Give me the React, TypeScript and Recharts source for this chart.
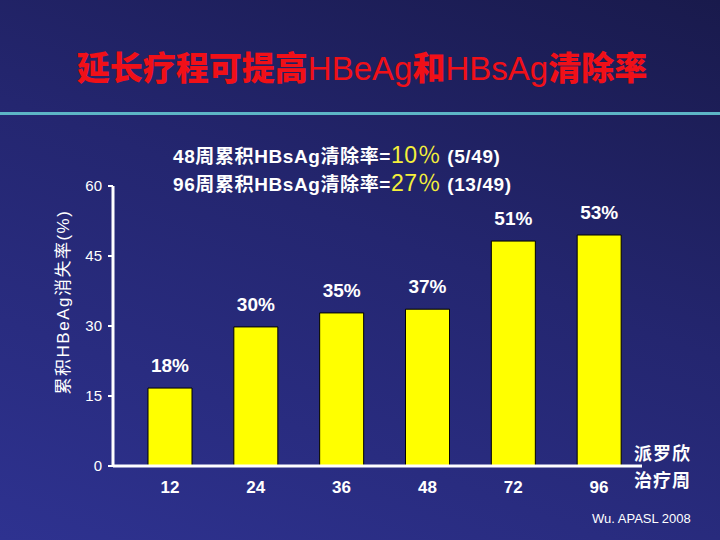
import React from "react";
import { BarChart, Bar, XAxis, YAxis, LabelList } from "recharts";

// treatment weeks
const weeks = ["12", "24", "36", "48", "72", "96"];
// bar heights as drawn on the slide (%)
const clearance = [16.7, 29.8, 32.8, 33.6, 48.2, 49.5];
// labels printed above the bars
const rateLabels = ["18%", "30%", "35%", "37%", "51%", "53%"];
const yTicks = [0, 15, 30, 45, 60];

const data = weeks.map((w, i) => ({ week: w, value: clearance[i], label: rateLabels[i] }));

const latin = "'Liberation Sans', Arial, 'Noto Sans CJK SC', sans-serif";
const cjk = "'Noto Sans CJK SC', 'Liberation Sans', sans-serif";

function YTick({ x, y, payload }: any) {
  return (
    <text x={x - 4} y={y} dy={5} textAnchor="end" fill="#fff" fontSize={15} fontFamily={latin}>
      {payload.value}
    </text>
  );
}

function XTick({ x, y, payload }: any) {
  return (
    <text x={x} y={y} dy={19} textAnchor="middle" fill="#fff" fontSize={17} fontWeight="bold" fontFamily={latin}>
      {payload.value}
    </text>
  );
}

export default function App() {
  return (
    <div
      style={{
        position: "absolute",
        left: 0,
        top: 0,
        width: 720,
        height: 540,
        overflow: "hidden",
        background: "linear-gradient(200deg, #191a4c 0%, #242670 45%, #2e3290 100%)",
        fontFamily: latin,
      }}
    >
      <div
        style={{
          position: "absolute",
          top: 42,
          left: 0,
          width: 724,
          textAlign: "center",
          color: "#f01018",
          fontSize: 33,
          whiteSpace: "nowrap",
        }}
      >
        <span style={{ fontFamily: cjk, fontWeight: 900 }}>延长疗程可提高</span>
        <span>HBeAg</span>
        <span style={{ fontFamily: cjk, fontWeight: 900 }}>和</span>
        <span>HBsAg</span>
        <span style={{ fontFamily: cjk, fontWeight: 900 }}>清除率</span>
      </div>
      <div style={{ position: "absolute", top: 112, left: 0, width: 720, height: 3, background: "#5db5c6" }} />

      <div
        style={{
          position: "absolute",
          top: 142,
          left: 173,
          color: "#fff",
          fontWeight: "bold",
          fontSize: 19,
          letterSpacing: 0.6,
          lineHeight: "27px",
          whiteSpace: "nowrap",
        }}
      >
        <div>
          48周累积HBsAg清除率=<span style={{ color: "#f5f03a", fontWeight: "normal", fontSize: 23 }}>10％</span> (5/49)
        </div>
        <div>
          96周累积HBsAg清除率=<span style={{ color: "#f5f03a", fontWeight: "normal", fontSize: 23 }}>27％</span> (13/49)
        </div>
      </div>

      <BarChart
        width={720}
        height={540}
        data={data}
        margin={{ top: 186, right: 78, bottom: 44, left: 73 }}
        style={{ position: "absolute", left: 0, top: 0 }}
      >
        <YAxis
          domain={[0, 60]}
          ticks={yTicks}
          width={40}
          axisLine={{ stroke: "#fff", strokeWidth: 3 }}
          tickLine={{ stroke: "#fff", strokeWidth: 2 }}
          tickSize={5}
          tick={<YTick />}
        />
        <XAxis
          dataKey="week"
          height={30}
          padding={{ left: 14, right: 0 }}
          axisLine={{ stroke: "#fff", strokeWidth: 3 }}
          tickLine={false}
          tick={<XTick />}
        />
        <Bar dataKey="value" fill="#ffff00" stroke="#000" strokeWidth={1} barSize={44} isAnimationActive={false}>
          <LabelList
            dataKey="label"
            position="top"
            offset={16}
            fill="#fff"
            fontSize={19}
            fontWeight="bold"
            fontFamily={latin}
          />
        </Bar>
      </BarChart>

      <div
        style={{
          position: "absolute",
          left: 61,
          top: 302,
          transform: "translate(-50%, -50%) rotate(-90deg)",
          color: "#fff",
          fontSize: 17,
          letterSpacing: 1.5,
          whiteSpace: "nowrap",
        }}
      >
        累积HBeAg消失率(%)
      </div>

      <div
        style={{
          position: "absolute",
          left: 634,
          top: 443,
          color: "#fff",
          fontFamily: cjk,
          fontWeight: "bold",
          fontSize: 18,
          letterSpacing: 1,
          lineHeight: "18px",
        }}
      >
        派罗欣
      </div>
      <div
        style={{
          position: "absolute",
          left: 634,
          top: 470,
          color: "#fff",
          fontFamily: cjk,
          fontWeight: "bold",
          fontSize: 18,
          letterSpacing: 1,
          lineHeight: "18px",
        }}
      >
        治疗周
      </div>
      <div style={{ position: "absolute", left: 592, top: 511, color: "#fff", fontSize: 13 }}>Wu. APASL 2008</div>
    </div>
  );
}
